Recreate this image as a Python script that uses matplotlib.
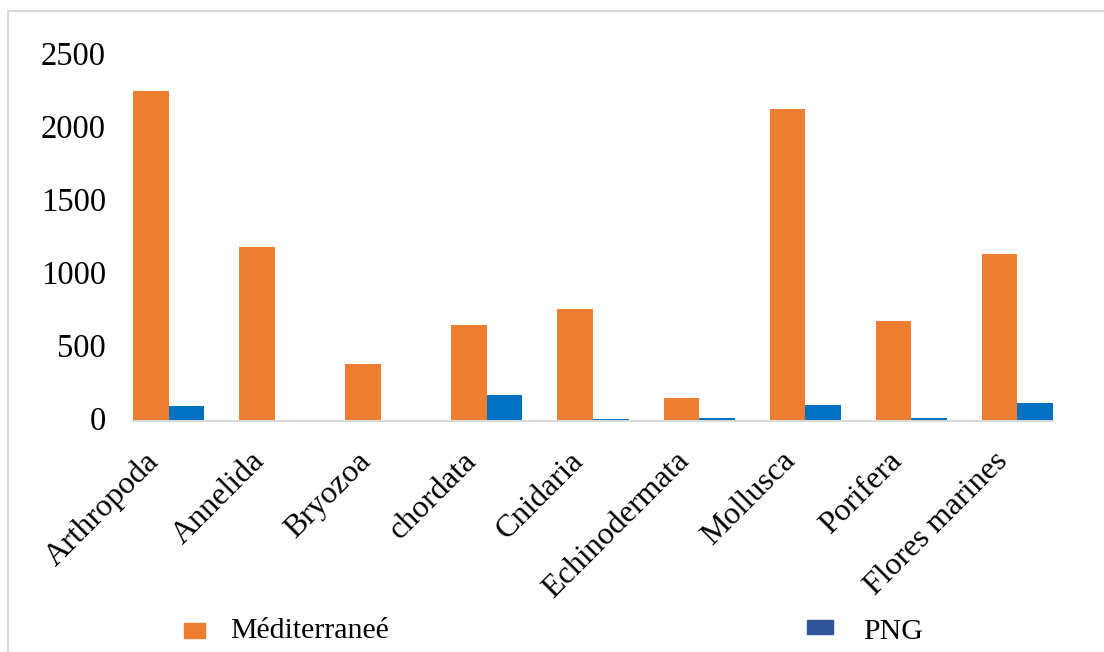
import matplotlib
matplotlib.use("Agg")
import matplotlib.pyplot as plt
import matplotlib.transforms as mtransforms
import numpy as np
from matplotlib.patches import Rectangle
from matplotlib.lines import Line2D

categories = ["Arthropoda", "Annelida", "Bryozoa", "chordata", "Cnidaria",
              "Echinodermata", "Mollusca", "Porifera", "Flores marines"]
mediterranee = [2260, 1190, 390, 655, 765, 158, 2135, 685, 1145]
png = [100, 8, 8, 178, 12, 20, 110, 20, 123]
yticks = [0, 500, 1000, 1500, 2000, 2500]
series_names = ["Méditerraneé", "PNG"]

c_med = "#ED7D31"
c_png = "#0070C0"
c_png_leg = "#2F5597"

plt.rcParams["font.family"] = ["Liberation Serif", "DejaVu Serif"]

W, H = 1104, 652
fig = plt.figure(figsize=(W / 100, H / 100), dpi=100)
ax = fig.add_axes([133 / W, 1 - 421 / H, 920 / W, 365 / H])

x = np.arange(len(categories))
w = 0.335
ax.bar(x - w / 2, mediterranee, width=w, color=c_med, label=series_names[0])
ax.bar(x + w / 2, png, width=w, color=c_png, label=series_names[1])

ax.set_xlim(-w, len(categories) - 1 + w)
ax.set_ylim(0, 2500)
ax.set_yticks(yticks)
ax.set_yticklabels([str(t) for t in yticks], fontsize=23.5)
ax.tick_params(axis="y", length=0, pad=19.5)
yoff = mtransforms.ScaledTranslation(0, 3 / 100, fig.dpi_scale_trans)
for lbl in ax.get_yticklabels():
    lbl.set_transform(lbl.get_transform() + yoff)

ax.set_xticks(x)
ax.set_xticklabels(categories, fontsize=23, rotation=45, ha="right",
                   va="center", rotation_mode="anchor")
ax.tick_params(axis="x", length=0, pad=10)
xoff = mtransforms.ScaledTranslation(-14 / 100, -22 / 100, fig.dpi_scale_trans)
for lbl in ax.get_xticklabels():
    lbl.set_transform(lbl.get_transform() + xoff)

for s in ["top", "right", "left"]:
    ax.spines[s].set_visible(False)
ax.spines["bottom"].set_color("#D9D9D9")
ax.spines["bottom"].set_linewidth(1.5)

# outer frame (top and left edges visible)
fig.add_artist(Line2D([8 / W, 8 / W], [0, 1 - 11 / H],
                      transform=fig.transFigure, color="#D9D9D9", lw=1.5))
fig.add_artist(Line2D([8 / W, 1], [1 - 11 / H, 1 - 11 / H],
                      transform=fig.transFigure, color="#D9D9D9", lw=1.5))

# legend (drawn manually to match the reference's wide spacing)
fig.add_artist(Rectangle((184 / W, 1 - 638 / H), 21 / W, 15 / H,
                         transform=fig.transFigure, color=c_med))
fig.text(230 / W, 1 - 638 / H, series_names[0], fontsize=21.5,
         va="baseline", ha="left")
fig.add_artist(Rectangle((807 / W, 1 - 634 / H), 26 / W, 14 / H,
                         transform=fig.transFigure, color=c_png_leg))
fig.text(863 / W, 1 - 639 / H, series_names[1], fontsize=21.5,
         va="baseline", ha="left")

fig.savefig("out.png", dpi=100, facecolor="white")
